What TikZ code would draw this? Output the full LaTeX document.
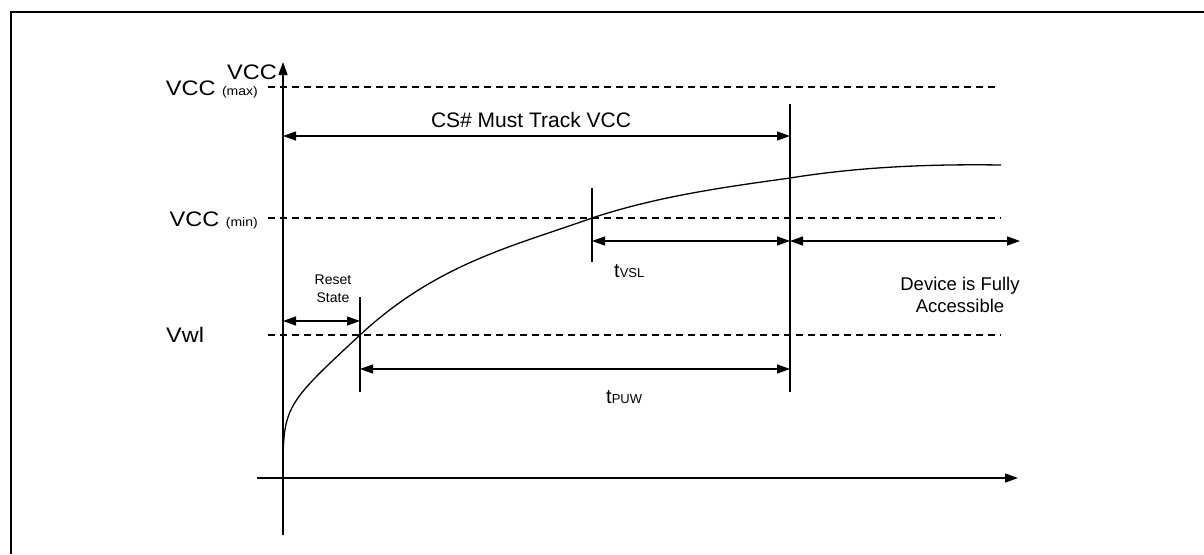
\documentclass[tikz,border=0pt]{standalone}
\usepackage{fontspec}
\setmainfont{Liberation Sans}
\newfontfamily\widefont[FakeStretch=1.12]{Liberation Sans}
\usetikzlibrary{arrows.meta}
\begin{document}
\begin{tikzpicture}[x=1pt,y=-1pt,
  ln/.style={line width=1.3pt,black},
  dsh/.style={line width=1.1pt,dash pattern=on 7pt off 5pt},
  tip/.style={-{Triangle[length=13pt,width=9pt]}},
  dbl/.style={{Triangle[length=13pt,width=9pt]}-{Triangle[length=13pt,width=9pt]}},
  big/.style={font=\widefont\fontsize{21}{24}\selectfont,inner sep=0pt},
  mid/.style={font=\fontsize{21}{24}\selectfont,inner sep=0pt},
  tlab/.style={font=\fontsize{20}{24}\selectfont,inner sep=0pt},
  sml/.style={font=\fontsize{14}{18}\selectfont,inner sep=0pt,align=center},
]
\useasboundingbox (0,0) rectangle (1204,554);
\fill[white] (0,0) rectangle (1204,554);
% frame
\draw[line width=2.4pt] (11,554) -- (11,12) -- (1210,12);

% coordinates
\coordinate (o) at (283,478);
\coordinate (ytop) at (283,62);
\coordinate (ybot) at (283,535);
\coordinate (xl) at (257,478);
\coordinate (xr) at (1018,478);

% axes
\draw[ln,tip] (ybot) -- (ytop);
\draw[ln,tip] (xl) -- (xr);

% dashed levels
\coordinate (maxL) at (268,87); \coordinate (maxR) at (995,87);
\coordinate (minL) at (268,218); \coordinate (minR) at (1001,218);
\coordinate (vwlL) at (268,335); \coordinate (vwlR) at (1001,335);
\draw[dsh] (maxL) -- (maxR);
\draw[dsh] (minL) -- (minR);
\draw[dsh] (vwlL) -- (vwlR);

% labels left
\node[big,anchor=base east] (lvcc) at (277,79) {VCC};
\node[big,anchor=base east] (lmax) at (258,95) {VCC {\fontsize{12.5}{14}\selectfont (max)}};
\node[big,anchor=base east] (lmin) at (258,226) {VCC {\fontsize{12.5}{14}\selectfont (min)}};
\node[big,anchor=base west] (lvwl) at (166,342) {Vwl};

% vertical markers
\coordinate (v1t) at (790,104); \coordinate (v1b) at (790,392);
\coordinate (v2t) at (592,188); \coordinate (v2b) at (592,262);
\coordinate (v3t) at (360,297); \coordinate (v3b) at (360,392);
\draw[ln] (v1t) -- (v1b);
\draw[ln] (v2t) -- (v2b);
\draw[ln] (v3t) -- (v3b);

% curve (vertical start, passing the three crossing points)
\coordinate (c0) at (283,478);
\coordinate (c1) at (360,335);
\coordinate (c2) at (592,218);
\coordinate (c3) at (790,178);
\coordinate (c4) at (1001,165);
\draw[ln] (c0) .. controls (283,406.5) .. (c1)
  .. controls (437.3,263.1) and (514.7,245.8) .. (c2)
  .. controls (658,196.2) and (724,187.2) .. (c3)
  .. controls (860.3,166.7) and (930.7,164) .. (c4);

% dimension arrows
\coordinate (csL) at (283,136); \coordinate (csR) at (790,136);
\draw[ln,dbl] (csL) -- (csR);
\node[mid] (cstxt) at (531,120) {CS\# Must Track VCC};

\coordinate (rsL) at (283,321); \coordinate (rsR) at (360,321);
\draw[ln,dbl] (rsL) -- (rsR);
\node[sml] (rstxt) at (333,289) {Reset\\State};

\coordinate (vsL) at (592,241); \coordinate (vsR) at (790,241);
\draw[ln,dbl] (vsL) -- (vsR);
\node[tlab,anchor=base west] (vstxt) at (614,277) {t\fontsize{13}{15}\selectfont VSL};

\coordinate (daL) at (790,241); \coordinate (daR) at (1020,241);
\draw[ln,dbl] (daL) -- (daR);
\node[font=\fontsize{18.5}{22}\selectfont,inner sep=0pt,align=center] (datxt) at (960,295) {Device is Fully\\Accessible};

\coordinate (puL) at (360,369); \coordinate (puR) at (790,369);
\draw[ln,dbl] (puL) -- (puR);
\node[tlab,anchor=base west] (putxt) at (606,403) {t\fontsize{13}{15}\selectfont PUW};
\end{tikzpicture}
\end{document}
